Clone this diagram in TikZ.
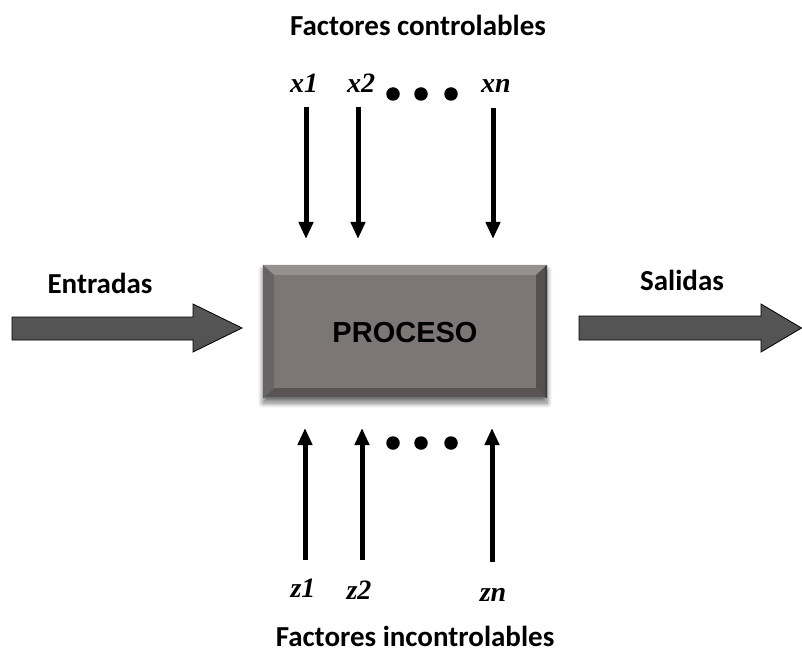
\documentclass[tikz,border=0pt]{standalone}
\usepackage{fontspec}
\setmainfont{Carlito}
\newfontfamily\arialf{Liberation Sans}
\newfontfamily\timesf{Liberation Serif}
\usetikzlibrary{arrows.meta,shadows.blur,calc}
\definecolor{boxgray}{HTML}{7C7676}
\tikzset{
  lbl/.style={font=\fontsize{29}{34}\selectfont\bfseries, inner sep=0pt},
  var/.style={font=\fontsize{28}{32}\selectfont\timesf\bfseries\itshape, inner sep=0pt, anchor=base},
  vline/.style={line width=5pt, -{Triangle[length=17pt,width=14pt]}},
  dotc/.style={circle, fill=black, inner sep=0pt, minimum size=13.5pt},
  bigarrow/.style={draw=black, line width=0.8pt, top color=black!66, middle color=black!84, bottom color=black!68, shading angle=0},
}
\begin{document}
\begin{tikzpicture}[x=1pt,y=-1pt]
\useasboundingbox (0,0) rectangle (802,668);
% process box
\node[minimum width=284pt, minimum height=133pt, fill=boxgray, inner sep=0pt,
  blur shadow={shadow xshift=0pt, shadow yshift=-5pt, shadow blur steps=10, shadow blur radius=5pt, shadow opacity=55}] (box) at (405,331.5) {};
\fill[boxgray!80!white] (box.north west) -- (box.north east) -- ($(box.north east)+(-11,10)$) -- ($(box.north west)+(11,10)$) -- cycle;
\fill[boxgray!72!black] (box.south west) -- (box.south east) -- ($(box.south east)+(-11,-10)$) -- ($(box.south west)+(11,-10)$) -- cycle;
\fill[boxgray!85!black] (box.north west) -- (box.south west) -- ($(box.south west)+(11,-10)$) -- ($(box.north west)+(11,10)$) -- cycle;
\fill[boxgray!68!black] (box.north east) -- (box.south east) -- ($(box.south east)+(-11,-10)$) -- ($(box.north east)+(-11,10)$) -- cycle;
\draw[black!75, line width=2.5pt] ($(box.north east)+(-1.25,1)$) -- ($(box.south east)+(-1.25,0)$);
\draw[black!55, line width=1.5pt] ($(box.south west)+(1,-0.75)$) -- ($(box.south east)+(-1,-0.75)$);
\node[font=\fontsize{29}{34}\selectfont\arialf\bfseries, inner sep=0pt] (proc) at (405,333) {PROCESO};
% big arrows
\coordinate (inA) at (12,328);
\coordinate (inB) at (242,328);
\path[bigarrow] (12,317) -- (193,317) -- (193,304) -- (242,328) -- (193,352) -- (193,340) -- (12,340) -- cycle;
\coordinate (outA) at (579,328);
\coordinate (outB) at (802,328);
\path[bigarrow] (579,316) -- (761,316) -- (761,304) -- (801.5,328) -- (761,352) -- (761,340) -- (579,340) -- cycle;
\node[lbl] (ent) at (100,283) {Entradas};
\node[lbl] (sal) at (682,280) {Salidas};
% top
\node[lbl] (fc) at (418,25) {Factores controlables};
\node[var] (x1) at (304,93) {x1};
\node[var] (x2) at (361,93) {x2};
\node[var] (xn) at (496,93) {xn};
\coordinate (x1t) at (306,107); \coordinate (x1b) at (306,239);
\coordinate (x2t) at (358,107); \coordinate (x2b) at (358,239);
\coordinate (xnt) at (493,108); \coordinate (xnb) at (493,239);
\draw[vline] (x1t) -- (x1b);
\draw[vline] (x2t) -- (x2b);
\draw[vline] (xnt) -- (xnb);
\node[dotc] (d1) at (393,94) {};
\node[dotc] (d2) at (421,94) {};
\node[dotc] (d3) at (451,94) {};
% bottom
\coordinate (z1b) at (305,560); \coordinate (z1t) at (305,428);
\coordinate (z2b) at (362,560); \coordinate (z2t) at (362,428);
\coordinate (znb) at (492,562); \coordinate (znt) at (492,428);
\draw[vline] (z1b) -- (z1t);
\draw[vline] (z2b) -- (z2t);
\draw[vline] (znb) -- (znt);
\node[dotc] (e1) at (393,443) {};
\node[dotc] (e2) at (421,443) {};
\node[dotc] (e3) at (451,443) {};
\node[var] (z1) at (303,597) {z1};
\node[var] (z2) at (359,599) {z2};
\node[var] (zn) at (493,601) {zn};
\node[lbl] (fi) at (415,636) {Factores incontrolables};
\end{tikzpicture}
\end{document}
